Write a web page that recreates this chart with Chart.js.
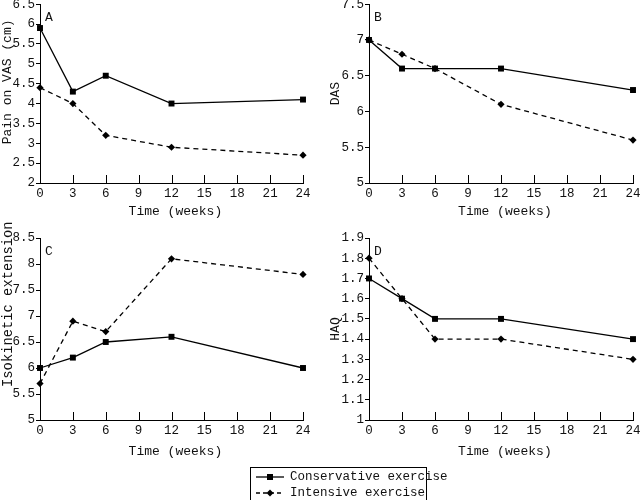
<!DOCTYPE html>
<html>
<head>
  <title>Conservative vs intensive exercise</title>
  <script src="https://cdn.jsdelivr.net/npm/chart.js"></script>
  <style>
    body {
      margin: 0;
      background: #fff;
    }
    canvas.panel {
      position: absolute;
    }
    #legend {
      position: absolute;
      left: 250px;
      top: 467px;
      width: 175px;
      height: 40px;
      border: 1px solid #000;
      font-family: "Liberation Mono", monospace;
      font-size: 12.5px;
      color: #111;
      white-space: nowrap;
    }
    #legend .row {
      position: absolute;
      left: 4px;
      height: 16px;
      line-height: 16px;
    }
    #legend canvas {
      vertical-align: middle;
      margin-right: 5px;
    }
  </style>
</head>
<body>
  <canvas id="chartA" class="panel" width="320" height="220" style="left:0;top:0"></canvas>
  <canvas id="chartB" class="panel" width="320" height="220" style="left:320px;top:0"></canvas>
  <canvas id="chartC" class="panel" width="320" height="240" style="left:0;top:220px"></canvas>
  <canvas id="chartD" class="panel" width="320" height="240" style="left:320px;top:220px"></canvas>
  <div id="legend">
    <div class="row" style="top:1px"><canvas id="sym0" width="30" height="14"></canvas><span id="lab0"></span></div>
    <div class="row" style="top:17px"><canvas id="sym1" width="30" height="14"></canvas><span id="lab1"></span></div>
  </div>

  <script>
    // time points (weeks)
    var weeks = [0, 3, 6, 12, 24];
    var seriesNames = ["Conservative exercise", "Intensive exercise"];

    // A - pain on VAS
    var vasConservative = [5.9, 4.3, 4.7, 4.0, 4.1];
    var vasIntensive = [4.4, 4.0, 3.2, 2.9, 2.7];
    // B - DAS
    var dasConservative = [7.0, 6.6, 6.6, 6.6, 6.3];
    var dasIntensive = [7.0, 6.8, 6.6, 6.1, 5.6];
    // C - isokinetic extension
    var isoConservative = [6.0, 6.2, 6.5, 6.6, 6.0];
    var isoIntensive = [5.7, 6.9, 6.7, 8.1, 7.8];
    // D - HAQ
    var haqConservative = [1.7, 1.6, 1.5, 1.5, 1.4];
    var haqIntensive = [1.8, 1.6, 1.4, 1.4, 1.3];

    var fontFamily = '"Liberation Mono", monospace';
    var textColor = "#111";

    // x-axis tick marks point up into the plot
    var innerTicks = {
      id: "innerTicks",
      afterDraw: function (chart) {
        var x = chart.scales.x;
        var ctx = chart.ctx;
        ctx.save();
        ctx.strokeStyle = "#000";
        ctx.lineWidth = 1;
        x.ticks.forEach(function (t) {
          var px = Math.round(x.getPixelForValue(t.value)) + 0.5;
          ctx.beginPath();
          ctx.moveTo(px, x.top);
          ctx.lineTo(px, x.top - 8);
          ctx.stroke();
        });
        // panel letter
        var area = chart.chartArea;
        ctx.fillStyle = textColor;
        ctx.font = "13px " + fontFamily;
        ctx.textBaseline = "top";
        ctx.fillText(chart.options.plugins.panelLetter, area.left + 5, area.top + 7);
        ctx.restore();
      }
    };

    function toPoints(values) {
      return weeks.map(function (w, i) { return { x: w, y: values[i] }; });
    }

    function makePanel(id, letter, yTitle, cons, inten, yMin, yMax, yStep, box) {
      var ctx = document.getElementById(id).getContext("2d");
      return new Chart(ctx, {
        type: "line",
        data: {
          datasets: [{
            label: seriesNames[0],
            data: toPoints(cons),
            borderColor: "#000",
            backgroundColor: "#000",
            borderWidth: 1.3,
            pointStyle: "rect",
            pointRadius: 4.2,
            pointBorderWidth: 0,
            tension: 0,
            clip: false
          }, {
            label: seriesNames[1],
            data: toPoints(inten),
            borderColor: "#000",
            backgroundColor: "#000",
            borderWidth: 1.3,
            borderDash: [5, 4],
            pointStyle: "rectRot",
            pointRadius: 3.6,
            pointBorderWidth: 0,
            tension: 0,
            clip: false
          }]
        },
        options: {
          responsive: false,
          animation: false,
          devicePixelRatio: 1,
          layout: { padding: { top: box.top, right: box.right, left: 0, bottom: 0 } },
          plugins: {
            legend: { display: false },
            tooltip: { enabled: false },
            panelLetter: letter
          },
          scales: {
            x: {
              type: "linear",
              min: 0,
              max: 24,
              ticks: { stepSize: 3, color: textColor, font: { family: fontFamily, size: 12.5 }, padding: 3, maxRotation: 0 },
              grid: { drawOnChartArea: false, drawTicks: false },
              border: { color: "#000", width: 1 },
              title: { display: true, text: " Time (weeks)", color: textColor, font: { family: fontFamily, size: 13 }, padding: { top: 0, bottom: 1 } },
              afterFit: function (s) { s.height = box.xh; s.paddingLeft = 0; s.paddingRight = 0; }
            },
            y: {
              min: yMin,
              max: yMax,
              ticks: {
                stepSize: yStep,
                color: textColor,
                font: { family: fontFamily, size: 12.5 },
                padding: 1,
                callback: function (v) { return String(+v.toFixed(2)); }
              },
              grid: { drawOnChartArea: false, tickLength: 4, color: "#000" },
              border: { color: "#000", width: 1 },
              title: { display: true, text: yTitle, color: textColor, font: { family: fontFamily, size: box.ts }, padding: { top: box.tp, bottom: 0 } },
              afterFit: function (s) { s.width = box.yw; s.paddingTop = 0; s.paddingBottom = 0; }
            }
          }
        },
        plugins: [innerTicks]
      });
    }

    makePanel("chartA", "A", "   Pain on VAS (cm)", vasConservative, vasIntensive, 2, 6.5, 0.5,
      { top: 4, right: 17, xh: 37, yw: 40, tp: 0, ts: 13 });
    makePanel("chartB", "B", "DAS", dasConservative, dasIntensive, 5, 7.5, 0.5,
      { top: 4, right: 7, xh: 37, yw: 49, tp: 8, ts: 13 });
    makePanel("chartC", "C", "      Isokinetic extension", isoConservative, isoIntensive, 5, 8.5, 0.5,
      { top: 18, right: 17, xh: 40, yw: 40, tp: 0, ts: 13.8 });
    makePanel("chartD", "D", "HAQ", haqConservative, haqIntensive, 1, 1.9, 0.1,
      { top: 18, right: 7, xh: 40, yw: 49, tp: 8, ts: 13 });

    // legend symbols
    function drawSymbol(id, dashed, diamond) {
      var c = document.getElementById(id).getContext("2d");
      c.strokeStyle = "#000";
      c.fillStyle = "#000";
      c.lineWidth = 1.3;
      if (dashed) c.setLineDash([4, 3]);
      c.beginPath();
      c.moveTo(1, 7);
      c.lineTo(29, 7);
      c.stroke();
      c.beginPath();
      if (diamond) {
        c.moveTo(15, 3.5); c.lineTo(18.5, 7); c.lineTo(15, 10.5); c.lineTo(11.5, 7);
      } else {
        c.rect(12, 4, 6, 6);
      }
      c.fill();
    }
    drawSymbol("sym0", false, false);
    drawSymbol("sym1", true, true);
    document.getElementById("lab0").textContent = seriesNames[0];
    document.getElementById("lab1").textContent = seriesNames[1];
  </script>
</body>
</html>
